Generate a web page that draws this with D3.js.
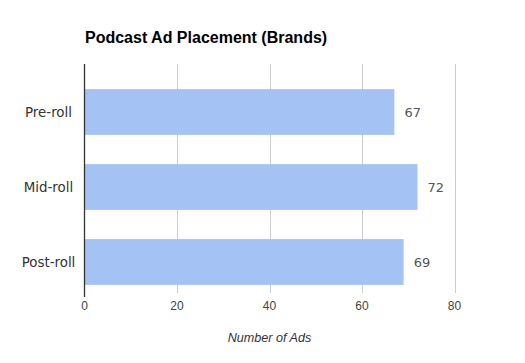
<!DOCTYPE html>
<html>
<head>
<meta charset="utf-8">
<script src="https://cdn.jsdelivr.net/npm/d3@7"></script>
<style>
  body { margin: 0; background: #fff; }
</style>
</head>
<body>
<div id="chart"></div>
<script>
const categories = ["Pre-roll", "Mid-roll", "Post-roll"];
const adCounts = [67, 72, 69];
const xTicks = [0, 20, 40, 60, 80];

const width = 525;
const height = 363;
const plot = { left: 84.5, right: 454.5, top: 64, bottom: 293 };

const svg = d3.select("#chart").append("svg")
    .attr("width", width)
    .attr("height", height);

const xScale = d3.scaleLinear()
    .domain([0, 80])
    .range([plot.left, plot.right]);

const yScale = d3.scaleBand()
    .domain(categories)
    .range([74.5, 299.5])
    .paddingInner(0.39)
    .paddingOuter(0.195);

// Gridlines
svg.append("g")
    .selectAll("line")
    .data(xTicks.filter(t => t > 0))
    .enter()
    .append("line")
    .attr("x1", d => Math.round(xScale(d)) + 0.5)
    .attr("x2", d => Math.round(xScale(d)) + 0.5)
    .attr("y1", plot.top)
    .attr("y2", plot.bottom)
    .attr("stroke", "#cccccc")
    .attr("stroke-width", 1);

// Bars
svg.append("g")
    .selectAll("rect")
    .data(categories)
    .enter()
    .append("rect")
    .attr("x", xScale(0))
    .attr("y", d => yScale(d))
    .attr("width", (d, i) => xScale(adCounts[i]) - xScale(0))
    .attr("height", yScale.bandwidth())
    .attr("fill", "#a4c2f4");

// Value labels
svg.append("g")
    .selectAll("text")
    .data(categories)
    .enter()
    .append("text")
    .attr("x", (d, i) => xScale(adCounts[i]) + 10)
    .attr("y", d => yScale(d) + yScale.bandwidth() / 2)
    .attr("dy", "0.35em")
    .attr("font-family", "DejaVu Sans, Verdana, sans-serif")
    .attr("font-size", 13)
    .attr("fill", "#555")
    .text((d, i) => adCounts[i]);

// Category labels
svg.append("g")
    .selectAll("text")
    .data(categories)
    .enter()
    .append("text")
    .attr("x", 48.5)
    .attr("y", d => yScale(d) + yScale.bandwidth() / 2)
    .attr("dy", "0.35em")
    .attr("text-anchor", "middle")
    .attr("font-family", "DejaVu Sans, Verdana, sans-serif")
    .attr("font-size", 13.4)
    .attr("fill", "#333")
    .text(d => d);

// Axis line at zero
svg.append("line")
    .attr("x1", plot.left)
    .attr("x2", plot.left)
    .attr("y1", plot.top)
    .attr("y2", 297)
    .attr("stroke", "#333")
    .attr("stroke-width", 1.3);

// X tick labels
svg.append("g")
    .selectAll("text")
    .data(xTicks)
    .enter()
    .append("text")
    .attr("x", d => xScale(d))
    .attr("y", 309.5)
    .attr("text-anchor", "middle")
    .attr("font-family", "Liberation Sans, Arial, sans-serif")
    .attr("font-size", 12)
    .attr("fill", "#444")
    .text(d => d);

// Axis title
svg.append("text")
    .attr("x", 269.5)
    .attr("y", 342)
    .attr("text-anchor", "middle")
    .attr("font-family", "Liberation Sans, Arial, sans-serif")
    .attr("font-style", "italic")
    .attr("font-size", 12.6)
    .attr("fill", "#333")
    .text("Number of Ads");

// Title
svg.append("text")
    .attr("x", 85)
    .attr("y", 43)
    .attr("font-family", "Liberation Sans, Arial, sans-serif")
    .attr("font-weight", "bold")
    .attr("font-size", 16)
    .attr("fill", "#000")
    .text("Podcast Ad Placement (Brands)");
</script>
</body>
</html>
